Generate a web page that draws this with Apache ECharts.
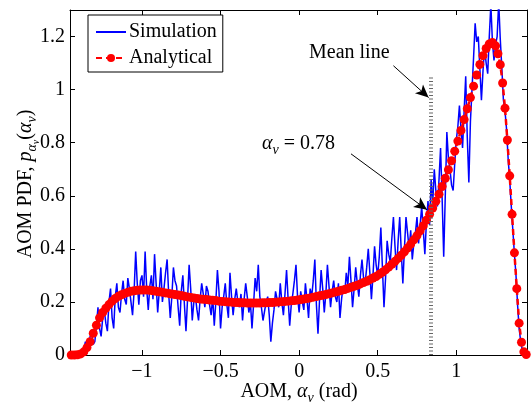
<!DOCTYPE html>
<html>
<head>
<meta charset="utf-8">
<script src="https://cdn.jsdelivr.net/npm/echarts@6/dist/echarts.min.js"></script>
<style>
    html, body { margin: 0; padding: 0; background: #fff; }
    #chart { width: 531px; height: 405px; }
</style>
</head>
<body>
<div id="chart"></div>
<script>
// 仿真直方图 (x 从 simStart 开始, 步长 simStep)
const simStart = -1.38;
const simStep = 0.01;
const simValues = [
    0.00, 0.02, 0.05, 0.01, 0.03, 0.07, 0.08, 0.04, 0.05, 0.11,
    0.18, 0.10, 0.07, 0.14, 0.17, 0.12, 0.09, 0.20, 0.25, 0.14,
    0.10, 0.22, 0.27, 0.18, 0.16, 0.23, 0.28, 0.21, 0.19, 0.29,
    0.25, 0.20, 0.15, 0.24, 0.39, 0.27, 0.19, 0.28, 0.30, 0.22,
    0.39, 0.25, 0.17, 0.26, 0.30, 0.21, 0.38, 0.27, 0.16, 0.24,
    0.33, 0.20, 0.25, 0.31, 0.36, 0.23, 0.14, 0.22, 0.33, 0.28,
    0.26, 0.18, 0.11, 0.24, 0.30, 0.19, 0.09, 0.21, 0.34, 0.25,
    0.13, 0.20, 0.22, 0.17, 0.13, 0.21, 0.27, 0.23, 0.18, 0.26,
    0.24, 0.19, 0.15, 0.22, 0.11, 0.20, 0.32, 0.24, 0.10, 0.18,
    0.22, 0.27, 0.19, 0.14, 0.31, 0.22, 0.15, 0.21, 0.25, 0.20,
    0.18, 0.23, 0.13, 0.21, 0.27, 0.22, 0.16, 0.20, 0.10, 0.19,
    0.29, 0.24, 0.34, 0.22, 0.18, 0.13, 0.13, 0.20, 0.22, 0.15,
    0.05, 0.12, 0.17, 0.24, 0.21, 0.18, 0.27, 0.20, 0.15, 0.23,
    0.32, 0.21, 0.11, 0.19, 0.23, 0.28, 0.34, 0.22, 0.16, 0.24,
    0.20, 0.17, 0.27, 0.21, 0.14, 0.25, 0.22, 0.28, 0.36, 0.19,
    0.08, 0.21, 0.32, 0.25, 0.16, 0.23, 0.34, 0.26, 0.18, 0.24,
    0.28, 0.22, 0.20, 0.27, 0.14, 0.21, 0.26, 0.23, 0.31, 0.26,
    0.37, 0.28, 0.18, 0.25, 0.33, 0.27, 0.22, 0.30, 0.36, 0.29,
    0.27, 0.33, 0.40, 0.31, 0.21, 0.30, 0.41, 0.34, 0.30, 0.37,
    0.48, 0.33, 0.18, 0.29, 0.43, 0.38, 0.35, 0.44, 0.52, 0.41,
    0.32, 0.43, 0.52, 0.39, 0.27, 0.40, 0.52, 0.46, 0.40, 0.47,
    0.36, 0.42, 0.46, 0.52, 0.42, 0.49, 0.56, 0.47, 0.38, 0.50,
    0.58, 0.49, 0.66, 0.57, 0.70, 0.62, 0.56, 0.66, 0.78, 0.59,
    0.37, 0.60, 0.84, 0.74, 0.70, 0.64, 0.62, 0.72, 0.81, 0.86,
    0.94, 0.85, 0.78, 0.92, 1.05, 0.82, 0.65, 0.88, 1.00, 1.12,
    1.25, 1.18, 1.20, 1.08, 0.96, 1.07, 1.16, 1.10, 1.06, 1.20,
    1.32, 1.18, 1.11, 1.17, 1.20, 1.33, 1.19, 1.08, 0.96, 0.92,
    0.85, 0.74, 0.66, 0.56, 0.47, 0.38, 0.30, 0.19, 0.10, 0.05,
    0.02, 0.01, 0.00
];

// 解析曲线
const anaX = [
    -1.45, -1.43, -1.41, -1.39, -1.37, -1.35, -1.33, -1.31, -1.29, -1.27,
    -1.25, -1.23, -1.21, -1.19, -1.17, -1.15, -1.13, -1.11, -1.09, -1.07,
    -1.05, -1.03, -1.01, -0.99, -0.97, -0.95, -0.93, -0.91, -0.89, -0.87,
    -0.85, -0.83, -0.81, -0.79, -0.77, -0.75, -0.73, -0.71, -0.69, -0.67,
    -0.65, -0.63, -0.61, -0.59, -0.57, -0.55, -0.53, -0.51, -0.49, -0.47,
    -0.45, -0.43, -0.41, -0.39, -0.37, -0.35, -0.33, -0.31, -0.29, -0.27,
    -0.25, -0.23, -0.21, -0.19, -0.17, -0.15, -0.13, -0.11, -0.09, -0.07,
    -0.05, -0.03, -0.01, 0.01, 0.03, 0.05, 0.07, 0.09, 0.11, 0.13,
    0.15, 0.17, 0.19, 0.21, 0.23, 0.25, 0.27, 0.29, 0.31, 0.33,
    0.35, 0.37, 0.39, 0.41, 0.43, 0.45, 0.47, 0.49, 0.51, 0.53,
    0.55, 0.57, 0.59, 0.61, 0.63, 0.65, 0.67, 0.69, 0.71, 0.73,
    0.75, 0.77, 0.79, 0.81, 0.83, 0.85, 0.87, 0.89, 0.91, 0.93,
    0.95, 0.97, 0.99, 1.01, 1.03, 1.05, 1.07, 1.09, 1.11, 1.13,
    1.15, 1.17, 1.19, 1.21, 1.23, 1.25, 1.265, 1.28, 1.295, 1.31,
    1.325, 1.34, 1.355, 1.37, 1.385, 1.40, 1.415, 1.43, 1.445
];
const anaY = [
    0.000, 0.000, 0.001, 0.004, 0.012, 0.028, 0.050, 0.082, 0.112, 0.140,
    0.160, 0.176, 0.190, 0.203, 0.213, 0.221, 0.227, 0.232, 0.236, 0.240,
    0.242, 0.244, 0.245, 0.245, 0.245, 0.244, 0.242, 0.240, 0.238, 0.236,
    0.234, 0.232, 0.230, 0.228, 0.226, 0.224, 0.221, 0.219, 0.217, 0.215,
    0.213, 0.211, 0.210, 0.209, 0.207, 0.206, 0.205, 0.203, 0.202, 0.201,
    0.200, 0.199, 0.198, 0.198, 0.197, 0.197, 0.196, 0.196, 0.196, 0.196,
    0.196, 0.197, 0.197, 0.198, 0.198, 0.199, 0.200, 0.201, 0.202, 0.203,
    0.204, 0.205, 0.207, 0.209, 0.211, 0.213, 0.215, 0.218, 0.220, 0.223,
    0.225, 0.228, 0.231, 0.234, 0.237, 0.240, 0.244, 0.247, 0.251, 0.255,
    0.259, 0.263, 0.268, 0.273, 0.278, 0.284, 0.290, 0.296, 0.304, 0.312,
    0.321, 0.331, 0.342, 0.353, 0.364, 0.376, 0.389, 0.403, 0.418, 0.434,
    0.450, 0.468, 0.487, 0.508, 0.530, 0.554, 0.579, 0.606, 0.635, 0.666,
    0.698, 0.732, 0.768, 0.806, 0.846, 0.887, 0.928, 0.970, 1.013, 1.055,
    1.095, 1.128, 1.155, 1.172, 1.178, 1.165, 1.135, 1.094, 1.025, 0.930,
    0.810, 0.675, 0.530, 0.385, 0.250, 0.120, 0.048, 0.012, 0.002
];

// 坐标轴刻度
const xTickValues = [-1, -0.5, 0, 0.5, 1];
const yTickValues = [0, 0.2, 0.4, 0.6, 0.8, 1, 1.2];

// 均值线及注释箭头 (数据坐标)
const meanX = 0.84;
const meanTop = 1.05;
const meanArrow = [[0.60, 1.09], [0.824, 0.97]];
const alphaArrow = [[0.33, 0.758], [0.814, 0.547]];

const FONT = '"Liberation Serif", "DejaVu Serif", serif';

function tickFormatter(list) {
    return (v) => {
        const hit = list.find(t => Math.abs(t - v) < 1e-6);
        if (hit === undefined) return '';
        return String(hit).replace('-', '\u2212');
    };
}

const richStyles = {
    r: { fontFamily: FONT, fontSize: 20, color: '#000' },
    i: { fontFamily: FONT, fontSize: 20, fontStyle: 'italic', color: '#000' },
    s: { fontFamily: FONT, fontSize: 14, fontStyle: 'italic', color: '#000', padding: [12, 0, 0, 0] },
    ss: { fontFamily: FONT, fontSize: 10, fontStyle: 'italic', color: '#000', padding: [20, 0, 0, 0] }
};

const simData = simValues.map((v, i) => [simStart + i * simStep, v]);
const anaData = anaX.map((x, i) => [x, anaY[i]]);

const chart = echarts.init(document.getElementById('chart'));

const baseAxis = {
    axisLine: { show: true, onZero: false, lineStyle: { color: '#000', width: 1 } },
    axisTick: { show: true, inside: true, length: 5, lineStyle: { color: '#000' } },
    splitLine: { show: false }
};

const option = {
    animation: false,
    backgroundColor: '#fff',
    grid: { left: 70, right: 4, top: 10, bottom: 50 },
    xAxis: [
        {
            ...baseAxis, type: 'value', position: 'bottom', min: -1.458, max: 1.45,
            axisLabel: {
                formatter: tickFormatter(xTickValues), margin: 7,
                fontFamily: FONT, fontSize: 20, color: '#000'
            }
        },
        {
            ...baseAxis, type: 'value', position: 'top', min: -1.458, max: 1.45,
            axisLabel: { show: false }
        }
    ],
    yAxis: [
        {
            ...baseAxis, type: 'value', position: 'left', min: 0, max: 1.3, interval: 0.2,
            axisLabel: {
                formatter: tickFormatter(yTickValues), margin: 5,
                fontFamily: FONT, fontSize: 20, color: '#000'
            }
        },
        {
            ...baseAxis, type: 'value', position: 'right', min: 0, max: 1.3, interval: 0.2,
            axisLabel: { show: false }
        }
    ],
    legend: {
        orient: 'vertical',
        left: 88,
        top: 15,
        padding: [7, 6, 4, 7],
        itemGap: 6,
        itemWidth: 30,
        itemHeight: 10,
        backgroundColor: '#fff',
        borderColor: '#000',
        borderWidth: 1,
        textStyle: { fontFamily: FONT, fontSize: 20, color: '#000', padding: [0, 0, 0, -2] },
        data: [
            { name: 'Simulation', itemStyle: { opacity: 0 } },
            { name: 'Analytical' }
        ]
    },
    series: [
        {
            name: 'Simulation',
            type: 'line',
            data: simData,
            symbol: 'none',
            color: '#0000ff',
            lineStyle: { color: '#0000ff', width: 1.5 },
            z: 2,
            markLine: {
                silent: true,
                animation: false,
                label: { show: false },
                data: [
                    [
                        { coord: [meanX, 0], symbol: 'none', lineStyle: { color: '#666', width: 4, type: [1, 2.5] } },
                        { coord: [meanX, meanTop], symbol: 'none' }
                    ],
                    [
                        { coord: meanArrow[0], symbol: 'none', lineStyle: { color: '#000', width: 1, type: 'solid' } },
                        { coord: meanArrow[1], symbol: 'arrow', symbolSize: [9, 13] }
                    ],
                    [
                        { coord: alphaArrow[0], symbol: 'none', lineStyle: { color: '#000', width: 1, type: 'solid' } },
                        { coord: alphaArrow[1], symbol: 'arrow', symbolSize: [9, 13] }
                    ]
                ]
            }
        },
        {
            name: 'Analytical',
            type: 'line',
            data: anaData,
            symbol: 'circle',
            symbolSize: 9,
            showSymbol: true,
            color: '#ff0000',
            itemStyle: { color: '#ff0000' },
            lineStyle: { color: '#ff0000', width: 2.5, type: [6, 4] },
            z: 3
        }
    ]
};

chart.setOption(option);

// 注释文字与坐标轴标题
chart.setOption({
    graphic: [
        {
            type: 'text', left: 309, top: 43,
            style: { text: 'Mean line', fontFamily: FONT, fontSize: 20, fill: '#000' }
        },
        {
            type: 'text', left: 262, top: 134,
            style: { text: '{i|α}{s|v}{r| = 0.78}', rich: richStyles }
        },
        {
            type: 'text', x: 299, y: 392,
            style: { text: '{r|AOM, }{i|α}{s|v}{r| (rad)}', rich: richStyles, align: 'center', verticalAlign: 'middle' }
        },
        {
            type: 'text', x: 26, y: 184, rotation: Math.PI / 2,
            style: { text: '{r|AOM PDF, }{i|p}{s|α}{ss|v}{r|(}{i|α}{s|v}{r|)}', rich: richStyles, align: 'center', verticalAlign: 'middle' }
        }
    ]
});
</script>
</body>
</html>
